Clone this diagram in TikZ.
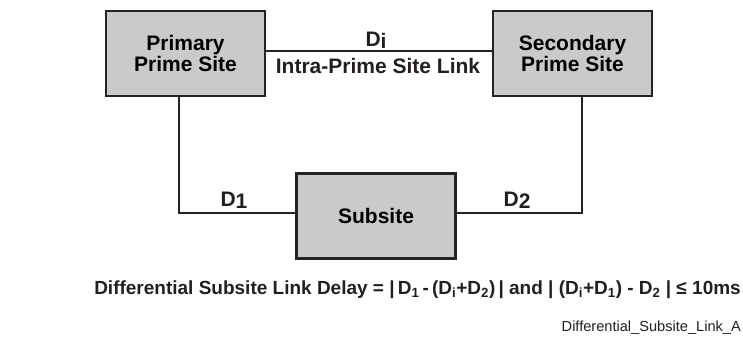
\documentclass[tikz,border=0pt]{standalone}
\usepackage{fontspec}
\setmainfont{Liberation Sans}
\begin{document}
\begin{tikzpicture}[x=1pt,y=-1pt,
  site/.style={draw={rgb,255:red,38;green,35;blue,36}, fill={rgb,255:red,204;green,202;blue,200},
    line width=2.6pt, minimum width=159pt, minimum height=85pt, inner sep=0pt,
    align=center, font=\fontsize{21}{19}\selectfont\bfseries},
  link/.style={draw={rgb,255:red,38;green,35;blue,36}, line width=2pt},
  lbl/.style={font=\fontsize{21}{21}\selectfont\bfseries, inner sep=0pt, text={rgb,255:red,35;green,31;blue,32}},
  eqn/.style={font=\fontsize{19}{19}\selectfont\bfseries, inner sep=0pt, text={rgb,255:red,35;green,31;blue,32}}]
\useasboundingbox (0,0) rectangle (743,337);
\node[site] (prim) at (185.5,53.5) {Primary\\Prime Site};
\node[site] (sec)  at (572.5,53.5) {Secondary\\Prime Site};
\node[site] (sub)  at (376,216) {Subsite};
% links between the sites
\draw[link] ([yshift=2.5pt]prim.east) -- ([yshift=2.5pt]sec.west);
\draw[link] ([xshift=-7pt]prim.south) |- ([yshift=3pt]sub.west);
\draw[link] ([xshift=9.5pt]sec.south) |- ([yshift=3pt]sub.east);
% link labels
\node[lbl, anchor=base] (di) at (376,46) {D\raisebox{-2pt}{i}};
\node[lbl, anchor=base] (intra) at (378,74) {Intra-Prime Site Link};
\node[lbl, anchor=base] (d1) at (234,206) {D\raisebox{-2.5pt}{1}};
\node[lbl, anchor=base] (d2) at (517,206) {D\raisebox{-2.5pt}{2}};
% delay condition
\node[eqn, anchor=base east] (eq) at (741,294) {Differential Subsite Link Delay = |\,D\textsubscript{1}\,-\,(D\textsubscript{i}+D\textsubscript{2})\,| and | (D\textsubscript{i}+D\textsubscript{1}) - D\textsubscript{2} | ≤ 10ms};
% file name tag
\node[anchor=base east, inner sep=0pt, font=\fontsize{14.6}{14.6}\selectfont, text={rgb,255:red,35;green,31;blue,32}] (fn) at (741,331) {Differential\_Subsite\_Link\_A};
\end{tikzpicture}
\end{document}
